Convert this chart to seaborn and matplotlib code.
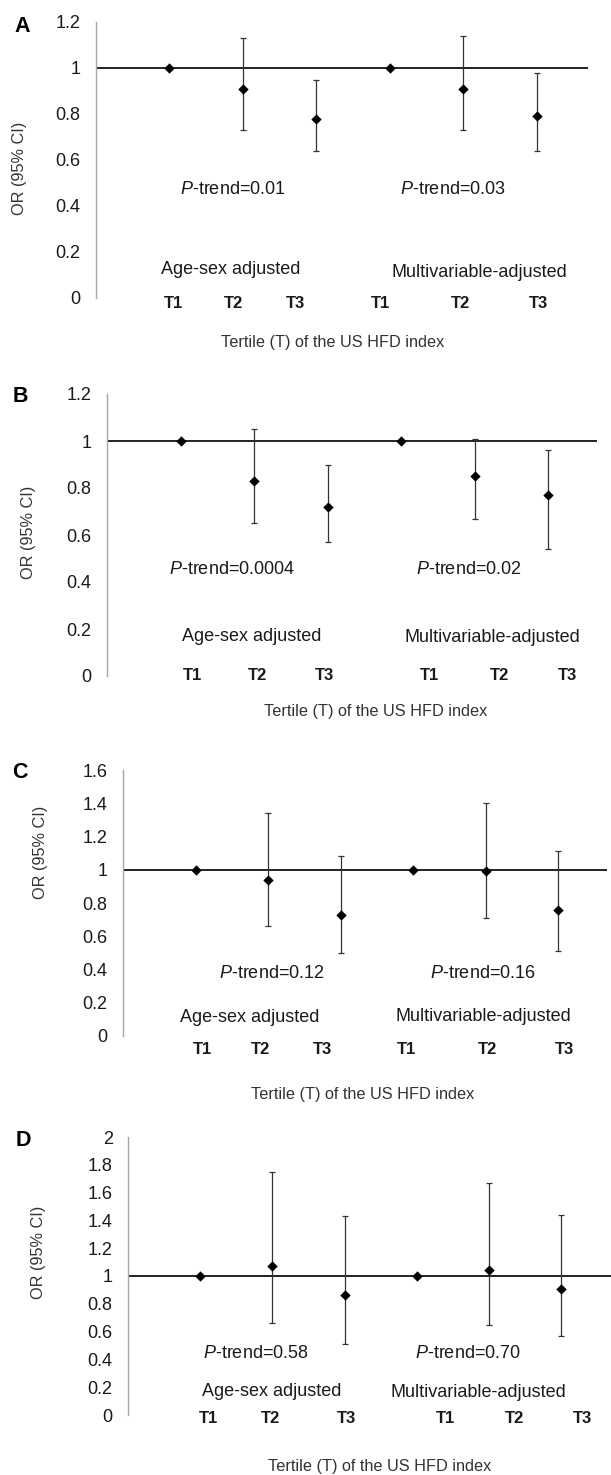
import matplotlib
matplotlib.use("Agg")
import matplotlib.pyplot as plt
import numpy as np
import pandas as pd
import seaborn as sns

sns.set_style("white")
plt.rcParams["font.family"] = ["Liberation Sans", "DejaVu Sans"]
plt.rcParams["mathtext.fontset"] = "custom"
plt.rcParams["mathtext.it"] = "Liberation Sans:italic"
plt.rcParams["mathtext.rm"] = "Liberation Sans"

W, H = 611, 1475   # output size in pixels (dpi 100)

# ---- data ----
panel_letters = ["A", "B", "C", "D"]
tertiles = ["T1", "T2", "T3", "T1", "T2", "T3"]
group_names = ["Age-sex adjusted", "Multivariable-adjusted"]
x_label = "Tertile (T) of the US HFD index"
y_label = "OR (95% CI)"

or_a = [1.0, 0.91, 0.78, 1.0, 0.91, 0.79]
lo_a = [np.nan, 0.73, 0.64, np.nan, 0.73, 0.64]
hi_a = [np.nan, 1.13, 0.95, np.nan, 1.14, 0.98]
ptrend_a = ["0.01", "0.03"]

or_b = [1.0, 0.83, 0.72, 1.0, 0.85, 0.77]
lo_b = [np.nan, 0.65, 0.57, np.nan, 0.67, 0.54]
hi_b = [np.nan, 1.05, 0.90, np.nan, 1.01, 0.96]
ptrend_b = ["0.0004", "0.02"]

or_c = [1.0, 0.94, 0.73, 1.0, 0.99, 0.76]
lo_c = [np.nan, 0.66, 0.50, np.nan, 0.71, 0.51]
hi_c = [np.nan, 1.34, 1.08, np.nan, 1.40, 1.11]
ptrend_c = ["0.12", "0.16"]

or_d = [1.0, 1.07, 0.86, 1.0, 1.04, 0.91]
lo_d = [np.nan, 0.66, 0.51, np.nan, 0.65, 0.57]
hi_d = [np.nan, 1.75, 1.43, np.nan, 1.67, 1.44]
ptrend_d = ["0.58", "0.70"]

y_max = [1.2, 1.2, 1.6, 2.0]

# ---- layout (pixels from top-left, text spots in data units) ----
LAYOUT = {
    "A": dict(box=(96, 22, 588, 298), xmax=6.70, letter=(22, 27), ylab=(20, 168), xlab=(333, 342),
              ptrend=[(1.14, 0.47), (4.14, 0.47)], groups=[(0.88, 0.123), (4.02, 0.113)],
              ticks=[1.06, 1.87, 2.72, 3.87, 4.96, 6.02], tick_y=-0.026),
    "B": dict(box=(107, 394, 597, 676), xmax=6.66, letter=(20, 397), ylab=(29, 532), xlab=(376, 712),
              ptrend=[(0.84, 0.455), (4.20, 0.455)], groups=[(1.02, 0.17), (4.05, 0.162)],
              ticks=[1.16, 2.04, 2.96, 4.39, 5.33, 6.26], tick_y=0.0),
    "C": dict(box=(123, 770, 607, 1036), xmax=6.67, letter=(20, 773), ylab=(41, 852), xlab=(363, 1094),
              ptrend=[(1.32, 0.376), (4.23, 0.376)], groups=[(0.79, 0.11), (3.75, 0.12)],
              ticks=[1.10, 1.90, 2.75, 3.91, 5.02, 6.09], tick_y=-0.084),
    "D": dict(box=(128, 1137, 611, 1415), xmax=6.69, letter=(23, 1141), ylab=(38, 1252), xlab=(380, 1467),
              ptrend=[(1.04, 0.44), (3.98, 0.44)], groups=[(1.02, 0.17), (3.64, 0.165)],
              ticks=[1.11, 1.97, 3.02, 4.40, 5.35, 6.30], tick_y=-0.024),
}

SPINE = "#a6a6a6"
TEXT = "#1a1a1a"

fig = plt.figure(figsize=(W / 100, H / 100), dpi=100)

panels = zip(panel_letters,
             [or_a, or_b, or_c, or_d],
             [lo_a, lo_b, lo_c, lo_d],
             [hi_a, hi_b, hi_c, hi_d],
             [ptrend_a, ptrend_b, ptrend_c, ptrend_d],
             y_max)

for letter, ors, los, his, pvals, ymax in panels:
    lay = LAYOUT[letter]
    l, t, r, b = lay["box"]
    ax = fig.add_axes([l / W, 1 - b / H, (r - l) / W, (b - t) / H])

    df = pd.DataFrame({"pos": np.arange(1, 7), "or": ors, "lo": los, "hi": his})

    ax.axhline(1, color="#111111", lw=1.3, zorder=1)
    ci = df.dropna()
    ax.errorbar(ci["pos"], ci["or"], yerr=[ci["or"] - ci["lo"], ci["hi"] - ci["or"]],
                fmt="none", ecolor="#333333", elinewidth=0.9, capsize=2.2, capthick=0.9, zorder=2)
    sns.scatterplot(data=df, x="pos", y="or", marker="D", color="black", s=28,
                    linewidth=0, ax=ax, zorder=3)

    ax.set_xlim(0, lay["xmax"])
    ax.set_ylim(0, ymax)
    yt = np.round(np.arange(0, ymax + 0.01, 0.2), 1)
    ax.set_yticks(yt, [f"{v:g}" for v in yt])
    ax.set_xticks([])
    ax.set_xlabel("")
    ax.set_ylabel("")
    sns.despine(ax=ax, top=True, right=True, bottom=True)
    ax.spines["left"].set_color(SPINE)
    ax.spines["left"].set_linewidth(1.0)
    ax.tick_params(axis="y", direction="out", length=3, width=1, color=SPINE,
                   pad=8, labelsize=13, labelcolor=TEXT)
    ax.patch.set_alpha(0)

    for (px, py), p in zip(lay["ptrend"], pvals):
        ax.text(px, py, f"$P$-trend={p}", ha="left", va="center", fontsize=13, color=TEXT)
    for (gx, gy), g in zip(lay["groups"], group_names):
        ax.text(gx, gy, g, ha="left", va="center", fontsize=13, color=TEXT)
    for tx, lab in zip(lay["ticks"], tertiles):
        ax.text(tx, lay["tick_y"], lab, ha="center", va="center", fontsize=12,
                fontweight="bold", color=TEXT, clip_on=False)

    lx, ly = lay["letter"]
    fig.text(lx / W, 1 - ly / H, letter, ha="center", va="center",
             fontsize=15.5, fontweight="bold", color="black")
    yx, yy = lay["ylab"]
    fig.text(yx / W, 1 - yy / H, y_label, rotation=90, ha="center", va="center",
             fontsize=11.7, color="#333333")
    xx, xy = lay["xlab"]
    fig.text(xx / W, 1 - xy / H, x_label, ha="center", va="center",
             fontsize=11.7, color="#333333")

fig.savefig("out.png", dpi=100)
